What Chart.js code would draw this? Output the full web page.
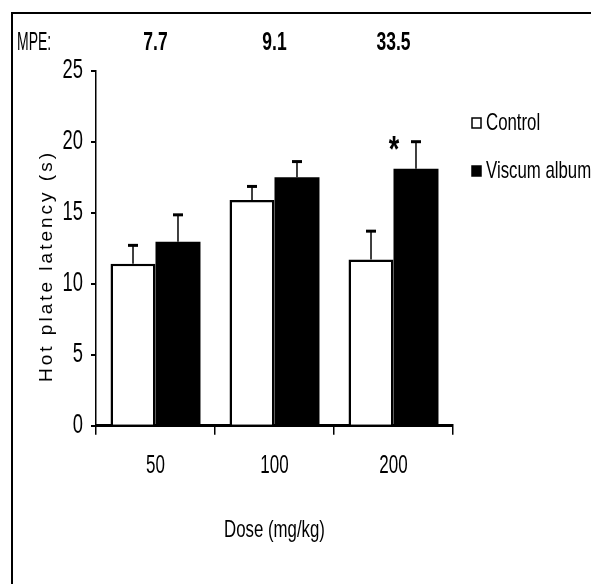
<!DOCTYPE html>
<html>
<head>
<meta charset="utf-8">
<script src="https://cdn.jsdelivr.net/npm/chart.js@4/dist/chart.umd.min.js"></script>
<style>
  html, body { margin: 0; padding: 0; background: #fff; overflow: hidden; }
  #wrap { position: relative; width: 591px; height: 584px; }
  #frame { position: absolute; left: 11px; top: 12px; width: 700px; height: 700px;
           border-left: 2px solid #000; border-top: 2px solid #000; }
  canvas { position: absolute; left: 0; top: 0; }
</style>
</head>
<body>
<div id="wrap">
  <canvas id="grafico" width="591" height="584"></canvas>
  <div id="frame"></div>
</div>
<script>
const doses = ['50', '100', '200'];
const mpe = ['7.7', '9.1', '33.5'];
const controle = [11.4, 15.9, 11.7];
const controleSem = [1.3, 0.95, 2.0];
const viscum = [12.95, 17.5, 18.1];
const viscumSem = [1.9, 1.1, 1.9];
const yTicks = [0, 5, 10, 15, 20, 25];

const fonte = '"Liberation Sans", Arial, sans-serif';

// texto estreito (tipo Arial Narrow esticada)
function estreito(c, txt, x, y, font, sx, align) {
    c.save();
    c.font = font;
    c.textAlign = 'left';
    c.textBaseline = 'middle';
    const w = c.measureText(txt).width * sx;
    let x0 = x;
    if (align === 'center') x0 = x - w / 2;
    if (align === 'right') x0 = x - w;
    c.translate(x0, y);
    c.scale(sx, 1);
    c.fillText(txt, 0, 0);
    c.restore();
}

const extras = {
    id: 'extras',
    afterDatasetsDraw(chart) {
        const c = chart.ctx;
        const y = chart.scales.y;
        const x = chart.scales.x;
        const sems = [controleSem, viscumSem];
        c.save();
        c.strokeStyle = '#000';
        c.fillStyle = '#000';
        // barras de erro só para cima
        chart.data.datasets.forEach((ds, d) => {
            chart.getDatasetMeta(d).data.forEach((bar, i) => {
                const top = y.getPixelForValue(ds.data[i] + sems[d][i]);
                c.lineWidth = 1.5;
                c.beginPath();
                c.moveTo(bar.x, bar.y);
                c.lineTo(bar.x, top);
                c.stroke();
                c.lineWidth = 3;
                c.beginPath();
                c.moveTo(bar.x - 5, top);
                c.lineTo(bar.x + 5, top);
                c.stroke();
            });
        });
        // asterisco sobre Viscum 200
        const b = chart.getDatasetMeta(1).data[2];
        estreito(c, '*', b.x - 22, y.getPixelForValue(viscum[2] + viscumSem[2]) + 10, 'bold 36px ' + fonte, 0.75, 'center');

        // rótulos do eixo y
        yTicks.forEach(v => estreito(c, String(v), y.left + 27, y.getPixelForValue(v), '27px ' + fonte, 0.68, 'right'));
        // doses e MPE
        doses.forEach((t, i) => estreito(c, t, x.getPixelForValue(i), 466, '25px ' + fonte, 0.68, 'center'));
        mpe.forEach((t, i) => estreito(c, t, x.getPixelForValue(i), 43, 'bold 25px ' + fonte, 0.7, 'center'));
        estreito(c, 'MPE:', 17, 43, '25px ' + fonte, 0.56, 'left');
        estreito(c, 'Dose (mg/kg)', (x.left + x.right) / 2, 530, '24px ' + fonte, 0.7, 'center');

        // título do eixo y
        c.save();
        c.translate(47, 266);
        c.rotate(-Math.PI / 2);
        c.font = '19px ' + fonte;
        c.letterSpacing = '3px';
        c.textAlign = 'center';
        c.textBaseline = 'middle';
        c.fillText('Hot plate latency (s)', 0, 0);
        c.restore();

        // legenda
        const lxl = x.right + 19;
        chart.data.datasets.forEach((ds, d) => {
            const ly = 123 + d * 48;
            c.lineWidth = 1.5;
            c.fillStyle = ds.backgroundColor;
            c.fillRect(lxl, ly - 5, 9, 10);
            c.strokeRect(lxl, ly - 5, 9, 10);
            c.fillStyle = '#000';
            estreito(c, ds.label, lxl + 14, ly, '24px ' + fonte, 0.7, 'left');
        });
        c.restore();
    }
};

new Chart(document.getElementById('grafico'), {
    type: 'bar',
    data: {
        labels: doses,
        datasets: [{
            label: 'Control',
            data: controle,
            backgroundColor: '#ffffff',
            borderColor: '#000000',
            borderWidth: { top: 2.5, left: 2.5, right: 2.5, bottom: 0 },
            borderSkipped: false,
            barPercentage: 1.0,
            categoryPercentage: 0.756
        }, {
            label: 'Viscum album',
            data: viscum,
            backgroundColor: '#000000',
            borderColor: '#000000',
            borderWidth: 0,
            barPercentage: 1.0,
            categoryPercentage: 0.756
        }]
    },
    options: {
        responsive: false,
        animation: false,
        layout: { padding: { left: 56, right: 138, top: 70.7, bottom: 148.3 } },
        plugins: { legend: { display: false }, tooltip: { enabled: false } },
        scales: {
            x: {
                grid: { display: true, drawOnChartArea: false, offset: true, tickLength: 9, color: '#000', lineWidth: 1.5 },
                border: { display: true, color: '#000', width: 3 },
                ticks: { display: false },
                afterFit: s => { s.height = 10; }
            },
            y: {
                min: 0,
                max: 25,
                afterBuildTicks: s => { s.ticks = yTicks.map(v => ({ value: v })); },
                grid: { display: true, drawOnChartArea: false, tickLength: 5, color: '#000', lineWidth: 2 },
                border: { display: true, color: '#000', width: 1.5 },
                ticks: { display: false },
                afterFit: s => { s.width = 40; }
            }
        }
    },
    plugins: [extras]
});
</script>
</body>
</html>
